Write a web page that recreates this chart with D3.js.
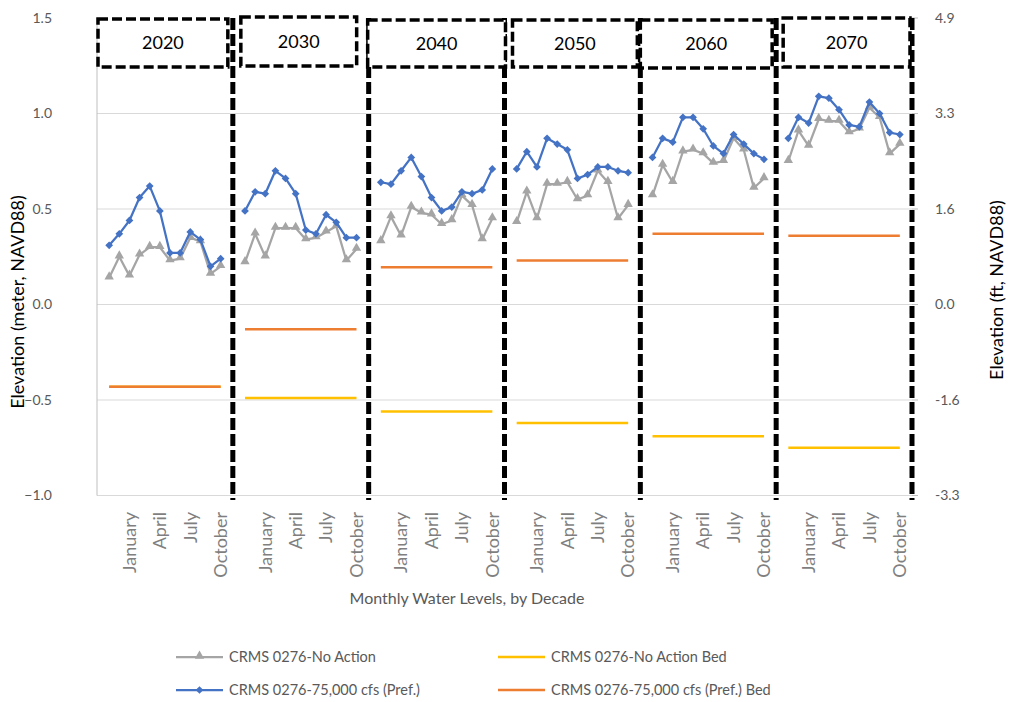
<!DOCTYPE html>
<html>
<head>
<meta charset="utf-8">
<script src="https://cdn.jsdelivr.net/npm/d3@7"></script>
<style>
  html, body { margin: 0; padding: 0; background: #fff; }
  svg { display: block; font-family: Lato, "Open Sans", sans-serif; }
</style>
</head>
<body>
<svg id="chart" width="1015" height="702"></svg>
<script>
// Monthly water levels at CRMS 0276, grouped by decade
const decades = ["2020", "2030", "2040", "2050", "2060", "2070"];
const months = ["November", "December", "January", "February", "March", "April",
                "May", "June", "July", "August", "September", "October"];
const shownMonths = ["January", "April", "July", "October"];

// CRMS 0276 - No Action (m, NAVD88)
const noAction2020 = [0.14, 0.25, 0.15, 0.26, 0.30, 0.30, 0.23, 0.24, 0.35, 0.33, 0.16, 0.20];
const noAction2030 = [0.22, 0.37, 0.25, 0.40, 0.40, 0.40, 0.34, 0.35, 0.38, 0.41, 0.23, 0.29];
const noAction2040 = [0.33, 0.46, 0.36, 0.51, 0.48, 0.47, 0.42, 0.44, 0.57, 0.52, 0.34, 0.45];
const noAction2050 = [0.43, 0.59, 0.45, 0.63, 0.63, 0.64, 0.55, 0.57, 0.70, 0.64, 0.45, 0.52];
const noAction2060 = [0.57, 0.73, 0.64, 0.80, 0.81, 0.79, 0.74, 0.75, 0.87, 0.81, 0.61, 0.66];
const noAction2070 = [0.75, 0.91, 0.83, 0.97, 0.96, 0.96, 0.90, 0.92, 1.03, 0.98, 0.79, 0.84];

// CRMS 0276 - 75,000 cfs (Pref.) (m, NAVD88)
const pref2020 = [0.31, 0.37, 0.44, 0.56, 0.62, 0.49, 0.27, 0.27, 0.38, 0.34, 0.20, 0.24];
const pref2030 = [0.49, 0.59, 0.58, 0.70, 0.66, 0.58, 0.39, 0.37, 0.47, 0.43, 0.35, 0.35];
const pref2040 = [0.64, 0.63, 0.70, 0.77, 0.67, 0.56, 0.49, 0.51, 0.59, 0.58, 0.60, 0.71];
const pref2050 = [0.71, 0.80, 0.72, 0.87, 0.84, 0.81, 0.66, 0.68, 0.72, 0.72, 0.70, 0.69];
const pref2060 = [0.77, 0.87, 0.85, 0.98, 0.98, 0.92, 0.83, 0.79, 0.89, 0.84, 0.79, 0.76];
const pref2070 = [0.87, 0.98, 0.95, 1.09, 1.08, 1.02, 0.94, 0.93, 1.06, 1.00, 0.90, 0.89];

// Bed elevations per decade (m, NAVD88)
const noActionBed = [-0.43, -0.49, -0.56, -0.62, -0.69, -0.75];
const prefBed = [-0.43, -0.13, 0.195, 0.23, 0.37, 0.36];

// Axis ticks
const meterTicks = [-1.0, -0.5, 0.0, 0.5, 1.0, 1.5];
const feetTickLabels = ["-3.3", "-1.6", "0.0", "1.6", "3.3", "4.9"];

const noActionSeries = [noAction2020, noAction2030, noAction2040, noAction2050, noAction2060, noAction2070];
const prefSeries = [pref2020, pref2030, pref2040, pref2050, pref2060, pref2070];

const colors = {
  noAction: "#a5a5a5",
  pref: "#4472c4",
  noActionBed: "#ffc000",
  prefBed: "#ed7d31",
  grid: "#d9d9d9",
  text: "#595959"
};

// Decade title boxes: inset from each panel's left/right edge, plus top/bottom
const boxLayout = [
  { l: 1, r: 5, t: 19, b: 67 },
  { l: 8, r: 12, t: 17, b: 66 },
  { l: -1, r: -1, t: 20, b: 67 },
  { l: 8, r: 3, t: 20, b: 67 },
  { l: 0, r: 4, t: 20, b: 68 },
  { l: 7, r: 2, t: 18, b: 67 }
];

const svg = d3.select("#chart");
const plotLeft = 97, plotRight = 912;

const y = d3.scaleLinear().domain([-1, 1.5]).range([495.5, 18]);
const panel = d3.scaleBand().domain(decades).range([plotLeft, plotRight]);
const month = d3.scalePoint().domain(months).range([0, panel.bandwidth()]).padding(1.2);
const xOf = (dec, m) => panel(dec) + month(m);

// Gridlines
svg.append("g").selectAll("line")
  .data(meterTicks.filter(t => t < 1.5))
  .join("line")
  .attr("x1", plotLeft).attr("x2", plotRight)
  .attr("y1", d => y(d)).attr("y2", d => y(d))
  .attr("stroke", colors.grid).attr("stroke-width", 1);

// Left axis line
svg.append("line")
  .attr("x1", plotLeft).attr("x2", plotLeft)
  .attr("y1", y(1.5)).attr("y2", y(-1))
  .attr("stroke", "#bfbfbf").attr("stroke-width", 1);

// Left axis labels
const leftAxis = d3.axisLeft(y).tickValues(meterTicks).tickFormat(d3.format(".1f")).tickSize(0).tickPadding(0);
svg.append("g")
  .attr("transform", "translate(52,0)")
  .call(leftAxis)
  .call(g => g.select(".domain").remove())
  .selectAll("text")
  .attr("fill", colors.text)
  .style("font-family", "Lato, sans-serif")
  .style("font-size", "14px");

// Right axis (feet) labels and small ticks
const ftScale = d3.scalePoint().domain(feetTickLabels).range([y(-1), y(1.5)]);
svg.append("g").selectAll("line")
  .data(feetTickLabels)
  .join("line")
  .attr("x1", plotRight).attr("x2", plotRight + 6)
  .attr("y1", d => ftScale(d)).attr("y2", d => ftScale(d))
  .attr("stroke", "#bfbfbf");
const rightAxis = d3.axisRight(ftScale).tickSize(0).tickPadding(0);
svg.append("g")
  .attr("transform", "translate(935,0)")
  .call(rightAxis)
  .call(g => g.select(".domain").remove())
  .selectAll("text")
  .attr("fill", colors.text)
  .style("font-family", "Lato, sans-serif")
  .style("font-size", "14px");

// Axis titles
svg.append("text")
  .attr("transform", "translate(24,302) rotate(-90)")
  .attr("text-anchor", "middle")
  .attr("fill", "#000")
  .style("font-size", "18px")
  .text("Elevation (meter, NAVD88)");
svg.append("text")
  .attr("transform", "translate(1003,290) rotate(-90)")
  .attr("text-anchor", "middle")
  .attr("fill", "#000")
  .style("font-size", "18px")
  .text("Elevation (ft, NAVD88)");
svg.append("text")
  .attr("x", 467).attr("y", 604)
  .attr("text-anchor", "middle")
  .attr("fill", colors.text)
  .style("font-size", "16px")
  .text("Monthly Water Levels, by Decade");

// Month labels under each panel
decades.forEach(dec => {
  svg.append("g").selectAll("text")
    .data(shownMonths)
    .join("text")
    .attr("transform", m => `translate(${xOf(dec, m)},512) rotate(-90)`)
    .attr("text-anchor", "end")
    .attr("dy", "0.35em")
    .attr("fill", "#7f7f7f")
    .style("font-size", "18px")
    .text(m => m);
});

// Bed lines
const bedLine = (dec, v) => [[xOf(dec, months[0]), y(v)], [xOf(dec, months[months.length - 1]), y(v)]];
const flat = d3.line();
decades.forEach((dec, i) => {
  svg.append("path").attr("d", flat(bedLine(dec, noActionBed[i])))
    .attr("stroke", colors.noActionBed).attr("stroke-width", 2.5).attr("fill", "none");
  svg.append("path").attr("d", flat(bedLine(dec, prefBed[i])))
    .attr("stroke", colors.prefBed).attr("stroke-width", 2.5).attr("fill", "none");
});

// Series lines and markers
const triangle = d3.symbol().type(d3.symbolTriangle).size(38);
const diamond = d3.symbol().type(d3.symbolSquare).size(30);

function drawSeries(values, dec, color, kind) {
  const line = d3.line().x((d, j) => xOf(dec, months[j])).y(d => y(d));
  svg.append("path").attr("d", line(values))
    .attr("stroke", color).attr("stroke-width", 2.25).attr("fill", "none")
    .attr("stroke-linejoin", "round");
  svg.append("g").selectAll("path")
    .data(values)
    .join("path")
    .attr("transform", (d, j) => kind === "tri"
      ? `translate(${xOf(dec, months[j])},${y(d) - 1})`
      : `translate(${xOf(dec, months[j])},${y(d)}) rotate(45)`)
    .attr("d", kind === "tri" ? triangle() : diamond())
    .attr("fill", color);
}
decades.forEach((dec, i) => {
  drawSeries(noActionSeries[i], dec, colors.noAction, "tri");
  drawSeries(prefSeries[i], dec, colors.pref, "dia");
});

// Dashed panel separators
const sepEdges = decades.map(d => panel(d) + panel.bandwidth());
svg.append("g").selectAll("line")
  .data(sepEdges)
  .join("line")
  .attr("x1", d => d).attr("x2", d => d)
  .attr("y1", 18).attr("y2", 500)
  .attr("stroke", "#000").attr("stroke-width", 5)
  .attr("stroke-dasharray", "12,4");

// Decade title boxes
decades.forEach((dec, i) => {
  const b = boxLayout[i];
  const x0 = panel(dec) + b.l, x1 = panel(dec) + panel.bandwidth() - b.r;
  svg.append("rect")
    .attr("x", x0).attr("y", b.t)
    .attr("width", x1 - x0).attr("height", b.b - b.t)
    .attr("fill", "#fff")
    .attr("stroke", "#000").attr("stroke-width", 3.5)
    .attr("stroke-dasharray", "10,4");
  svg.append("text")
    .attr("x", (x0 + x1) / 2).attr("y", (b.t + b.b) / 2)
    .attr("dy", "0.35em")
    .attr("text-anchor", "middle")
    .attr("fill", "#000")
    .style("font-size", "18px")
    .style("font-weight", "400")
    .text(dec);
});

// Legend
const legendItems = [
  { label: "CRMS 0276-No Action", color: colors.noAction, marker: "tri", x: 176, y: 657 },
  { label: "CRMS 0276-No Action Bed", color: colors.noActionBed, marker: null, x: 498, y: 657 },
  { label: "CRMS 0276-75,000 cfs (Pref.)", color: colors.pref, marker: "dia", x: 176, y: 690 },
  { label: "CRMS 0276-75,000 cfs (Pref.) Bed", color: colors.prefBed, marker: null, x: 498, y: 690 }
];
const legend = svg.append("g");
legendItems.forEach(it => {
  const g = legend.append("g").attr("transform", `translate(${it.x},${it.y})`);
  g.append("line").attr("x1", 0).attr("x2", 47).attr("y1", 0).attr("y2", 0)
    .attr("stroke", it.color).attr("stroke-width", it.marker ? 2.25 : 2.5);
  if (it.marker === "tri") {
    g.append("path").attr("transform", "translate(23.5,-1)").attr("d", triangle()).attr("fill", it.color);
  } else if (it.marker === "dia") {
    g.append("path").attr("transform", "translate(23.5,0) rotate(45)").attr("d", diamond()).attr("fill", it.color);
  }
  g.append("text").attr("x", 53).attr("y", 0).attr("dy", "0.35em")
    .attr("fill", colors.text).style("font-size", "14.5px")
    .text(it.label);
});
</script>
</body>
</html>
